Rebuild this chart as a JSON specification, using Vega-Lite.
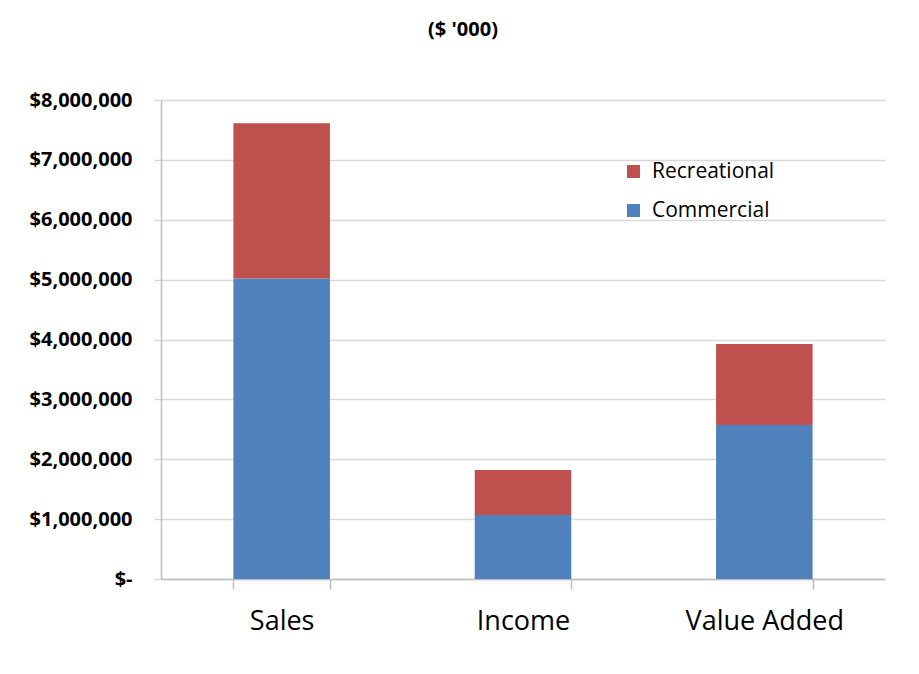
{
  "$schema": "https://vega.github.io/schema/vega-lite/v6.json",
  "autosize": "none",
  "width": 724,
  "height": 479,
  "padding": {"left": 161, "top": 100, "right": 34, "bottom": 95},
  "background": "white",
  "title": {
    "text": "($ '000)",
    "font": "Open Sans",
    "fontSize": 20,
    "fontWeight": "bold",
    "color": "#000000",
    "anchor": "middle",
    "dx": -60,
    "offset": 50
  },
  "data": {
    "values": [
      {"measure": "Sales", "type": "Commercial", "value": 5020000},
      {"measure": "Sales", "type": "Recreational", "value": 2590000},
      {"measure": "Income", "type": "Commercial", "value": 1070000},
      {"measure": "Income", "type": "Recreational", "value": 750000},
      {"measure": "Value Added", "type": "Commercial", "value": 2570000},
      {"measure": "Value Added", "type": "Recreational", "value": 1355000}
    ]
  },
  "mark": {"type": "bar"},
  "encoding": {
    "x": {
      "field": "measure",
      "type": "nominal",
      "sort": ["Sales", "Income", "Value Added"],
      "scale": {"paddingInner": 0.6, "paddingOuter": 0.3},
      "axis": {
        "title": null,
        "labelAngle": 0,
        "labelFont": "Open Sans",
        "labelFontSize": 27,
        "labelColor": "#000000",
        "labelPadding": 19,
        "tickBand": "extent",
        "tickSize": 10,
        "tickColor": "#BFBFBF",
        "domainColor": "#BFBFBF",
        "domainWidth": 1.5,
        "tickWidth": 1.5,
        "grid": false
      }
    },
    "y": {
      "field": "value",
      "type": "quantitative",
      "stack": "zero",
      "scale": {"domain": [0, 8000000], "nice": false},
      "axis": {
        "title": null,
        "values": [0, 1000000, 2000000, 3000000, 4000000, 5000000, 6000000, 7000000, 8000000],
        "labelExpr": "datum.value == 0 ? '$-' : '$' + format(datum.value, ',')",
        "labelFont": "Open Sans",
        "labelFontSize": 20,
        "labelFontWeight": "bold",
        "labelColor": "#000000",
        "labelPadding": 22,
        "tickSize": 7,
        "tickColor": "#D9D9D9",
        "tickWidth": 1.5,
        "domainColor": "#BFBFBF",
        "domainWidth": 1.5,
        "gridColor": "#D9D9D9",
        "gridWidth": 1.5
      }
    },
    "color": {
      "field": "type",
      "type": "nominal",
      "scale": {"domain": ["Recreational", "Commercial"], "range": ["#C0504D", "#4F81BD"]},
      "legend": {
        "title": null,
        "orient": "none",
        "legendX": 462,
        "legendY": 61,
        "symbolType": "square",
        "symbolSize": 169,
        "symbolStrokeWidth": 0,
        "labelFont": "Open Sans",
        "labelFontSize": 21,
        "labelColor": "#000000",
        "labelOffset": 8,
        "rowPadding": 17
      }
    },
    "order": {"field": "type", "sort": "ascending"}
  },
  "config": {"view": {"stroke": null}}
}
